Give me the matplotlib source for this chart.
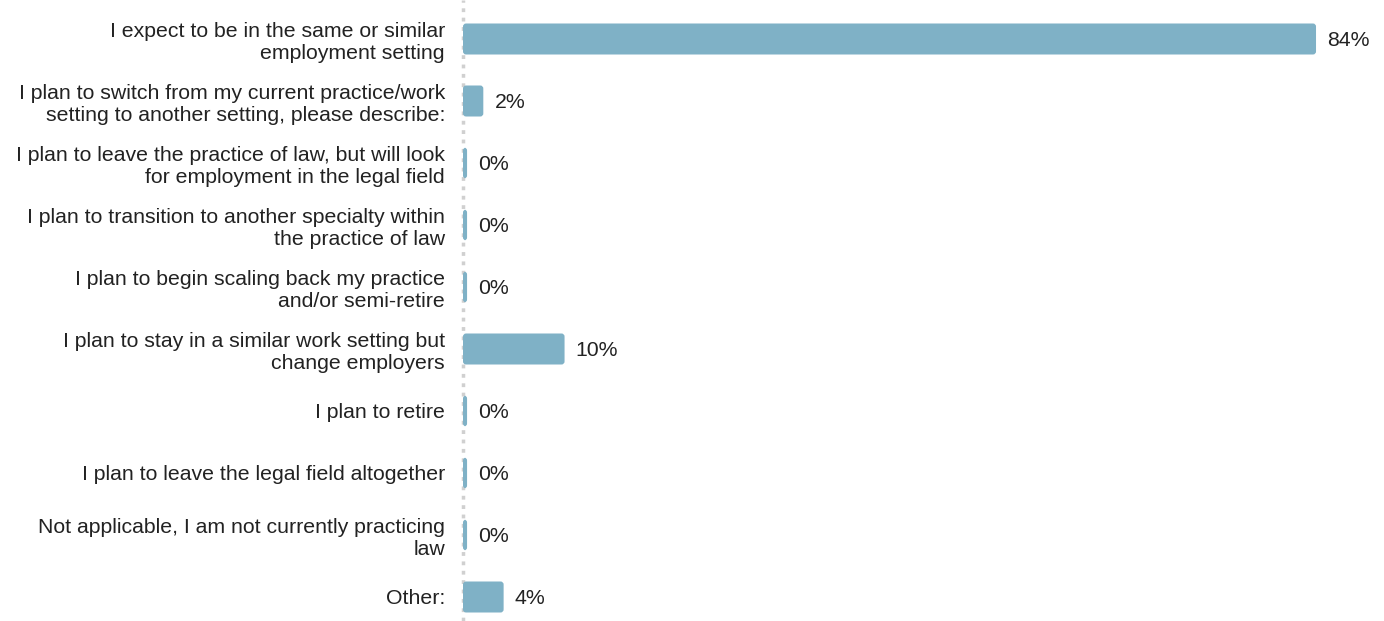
import numpy as np
import matplotlib.pyplot as plt
from matplotlib.patches import FancyBboxPatch

plt.rcParams['font.family'] = ['Liberation Sans', 'DejaVu Sans']

labels = ['I expect to be in the same or similar\nemployment setting',
          'I plan to switch from my current practice/work\nsetting to another setting, please describe:',
          'I plan to leave the practice of law, but will look\nfor employment in the legal field',
          'I plan to transition to another specialty within\nthe practice of law',
          'I plan to begin scaling back my practice\nand/or semi-retire',
          'I plan to stay in a similar work setting but\nchange employers',
          'I plan to retire',
          'I plan to leave the legal field altogether',
          'Not applicable, I am not currently practicing\nlaw',
          'Other:']
values = [84, 2, 0, 0, 0, 10, 0, 0, 0, 4]

bar_color = '#7fb1c6'
text_color = '#222222'

fig = plt.figure(figsize=(13.84, 6.21), dpi=100)
ax = fig.add_axes([463 / 1384, 0, 1 - 463 / 1384, 1])

y = np.arange(len(values))
# 0% rows still get a thin sliver, like the original
widths = [max(v, 0.4) for v in values]
bars = ax.barh(y, widths, height=0.5, color=bar_color)

ax.set_xlim(0, 921 / 10.155)
ax.set_ylim(9 + 24 / 62, -39 / 62)

# swap the plain bars for slightly rounded ones
for b in bars:
    x0, y0 = b.get_x(), b.get_y()
    w, h = b.get_width(), b.get_height()
    b.set_visible(False)
    ax.add_patch(FancyBboxPatch((x0, y0), w, h, boxstyle='round,pad=0,rounding_size=0.3',
                                mutation_aspect=0.5 / 3.0, fc=bar_color, ec='none', zorder=3))

for yi, w, v in zip(y, widths, values):
    ax.annotate(f'{v}%', (w, yi), xytext=(8, 0), textcoords='offset points',
                ha='left', va='center_baseline', fontsize=15.3, color=text_color)

ax.set_yticks(y)
ax.set_yticklabels(labels, fontsize=15.3, color=text_color, linespacing=1.22)
ax.tick_params(axis='y', length=0, pad=13)
ax.set_xticks([])
for s in ax.spines.values():
    s.set_visible(False)

ax.axvline(0, color='#d0d0d0', lw=2.5, ls=(0, (1.1, 1.6)), zorder=1, clip_on=False)

fig.savefig('out.png', dpi=100)
